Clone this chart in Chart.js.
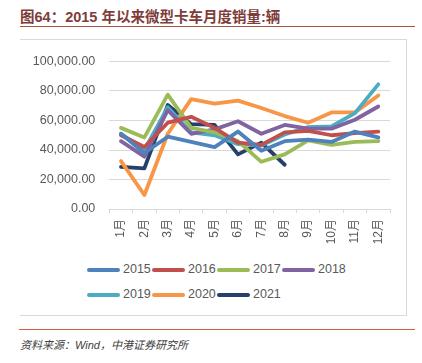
<!DOCTYPE html>
<html>
<head>
<meta charset="utf-8">
<script src="https://cdn.jsdelivr.net/npm/chart.js@4/dist/chart.umd.min.js"></script>
<style>
  html, body { margin:0; padding:0; background:#fff; }
  body { width:422px; height:363px; position:relative; overflow:hidden; font-family:"Liberation Sans","Noto Sans CJK SC",sans-serif; }
  #title { position:absolute; left:20px; top:5px; font-size:14.5px; font-weight:bold; color:#7e3d3a; white-space:nowrap; font-family:"Liberation Sans","Noto Sans CJK SC",sans-serif; }
  #tline { position:absolute; left:20px; top:26px; width:395px; height:0; border-top:1.5px solid #a9563f; }
  #frame { position:absolute; left:20px; top:39px; width:386px; height:275px; border-top:1px solid #d9d9d9; border-right:1px solid #d9d9d9; border-bottom:1px solid #d9d9d9; }
  #wrap { position:absolute; left:20px; top:40px; width:387px; height:220px; }
  #legend { position:absolute; left:87px; top:260px; width:300px; }
  .row { position:absolute; left:0; height:20px; white-space:nowrap; }
  .item { position:absolute; top:0; height:20px; }
  .bar { position:absolute; left:0; top:8px; width:33px; height:4px; border-radius:2px; }
  .lab { position:absolute; left:36px; top:2px; font-size:12.5px; color:#595959; font-family:"Liberation Sans",sans-serif; }
  #bline { position:absolute; left:19px; top:329px; width:396px; height:0; border-top:1.5px solid #d0603f; }
  #src { position:absolute; left:20px; top:336px; font-size:11px; font-style:italic; color:#404040; white-space:nowrap; font-family:"Liberation Sans","Noto Sans CJK SC",sans-serif; }
</style>
</head>
<body>
<div id="title">图64：2015 年以来微型卡车月度销量:辆</div>
<div id="tline"></div>
<div id="frame"></div>
<div id="wrap"><canvas id="c" width="387" height="220"></canvas></div>
<div id="legend"></div>
<div id="bline"></div>
<div id="src">资料来源：Wind，中港证券研究所</div>
<script>
const months = ['1月','2月','3月','4月','5月','6月','7月','8月','9月','10月','11月','12月'];
const seriesNames = ['2015','2016','2017','2018','2019','2020','2021'];
const s2015 = [51000, 38000, 49000, 45500, 42000, 52500, 39500, 46000, 47000, 45500, 52500, 48500];
const s2016 = [50000, 42000, 58500, 62500, 55000, 45000, 43500, 52000, 53000, 50000, 51500, 52500];
const s2017 = [55000, 48500, 77500, 55000, 52000, 46000, 32000, 37000, 46500, 43500, 45500, 46000];
const s2018 = [46000, 35500, 67000, 51000, 54000, 59500, 51000, 57000, 54500, 54500, 60500, 69500];
const s2019 = [51000, 40000, 69000, 52000, 50000, 44000, 43000, 50500, 55500, 56000, 65000, 84500];
const s2020 = [32500, 9500, 51000, 74500, 71500, 73500, 68500, 63000, 58500, 65500, 65500, 77000];
const s2021 = [28500, 27500, 70500, 57500, 57000, 37000, 45000, 30000];
const yTicks = [0, 20000, 40000, 60000, 80000, 100000];

const seriesValues = [s2015, s2016, s2017, s2018, s2019, s2020, s2021];
const colors = ['#4f81bd','#c0504d','#9bbb59','#8064a2','#4bacc6','#f79646','#25406a'];

const datasets = seriesNames.map((n, i) => ({
  label: n,
  data: seriesValues[i],
  borderColor: colors[i],
  backgroundColor: colors[i],
  borderWidth: 3.8,
  pointRadius: 0,
  pointHoverRadius: 0,
  tension: 0,
  fill: false,
  borderJoinStyle: 'round',
  borderCapStyle: 'round'
}));

new Chart(document.getElementById('c'), {
  type: 'line',
  data: { labels: months, datasets },
  options: {
    responsive: false,
    animation: false,
    devicePixelRatio: 1,
    layout: { padding: { top: 17, right: 17, bottom: 11, left: 0 } },
    plugins: { legend: { display: false }, tooltip: { enabled: false } },
    scales: {
      x: {
        offset: true,
        grid: { offset: true, display: true, drawOnChartArea: false, drawTicks: true, tickLength: 4, color: '#d9d9d9' },
        border: { display: true, color: '#d9d9d9' },
        ticks: { autoSkip: false, maxRotation: 90, minRotation: 90, padding: 6, color: '#595959',
                 font: { size: 12, family: '"Liberation Sans","Noto Sans CJK SC",sans-serif' } },
        afterFit: s => { s.height = 40; }
      },
      y: {
        min: yTicks[0], max: yTicks[yTicks.length - 1],
        afterBuildTicks: s => { s.ticks = yTicks.map(v => ({ value: v })); },
        grid: { color: '#d9d9d9', drawTicks: false, lineWidth: 1 },
        border: { display: false },
        ticks: { padding: 14, color: '#595959',
                 font: { size: 12.5, family: '"Liberation Sans",sans-serif' },
                 callback: v => Number(v).toLocaleString('en-US', { minimumFractionDigits: 2, maximumFractionDigits: 2 }) },
        afterFit: s => { s.width = 89.3; }
      }
    }
  }
});

// legend (HTML)
const leg = document.getElementById('legend');
const perRow = 4;
const rows = [];
seriesNames.forEach((n, i) => {
  const r = Math.floor(i / perRow);
  if (!rows[r]) {
    const d = document.createElement('div');
    d.className = 'row';
    d.style.top = (r * 25) + 'px';
    leg.appendChild(d);
    rows[r] = d;
  }
  const it = document.createElement('div');
  it.className = 'item';
  it.style.left = ((i % perRow) * 65) + 'px';
  const b = document.createElement('div');
  b.className = 'bar';
  b.style.background = colors[i];
  const t = document.createElement('div');
  t.className = 'lab';
  t.textContent = n;
  it.appendChild(b); it.appendChild(t);
  rows[r].appendChild(it);
});
</script>
</body>
</html>
